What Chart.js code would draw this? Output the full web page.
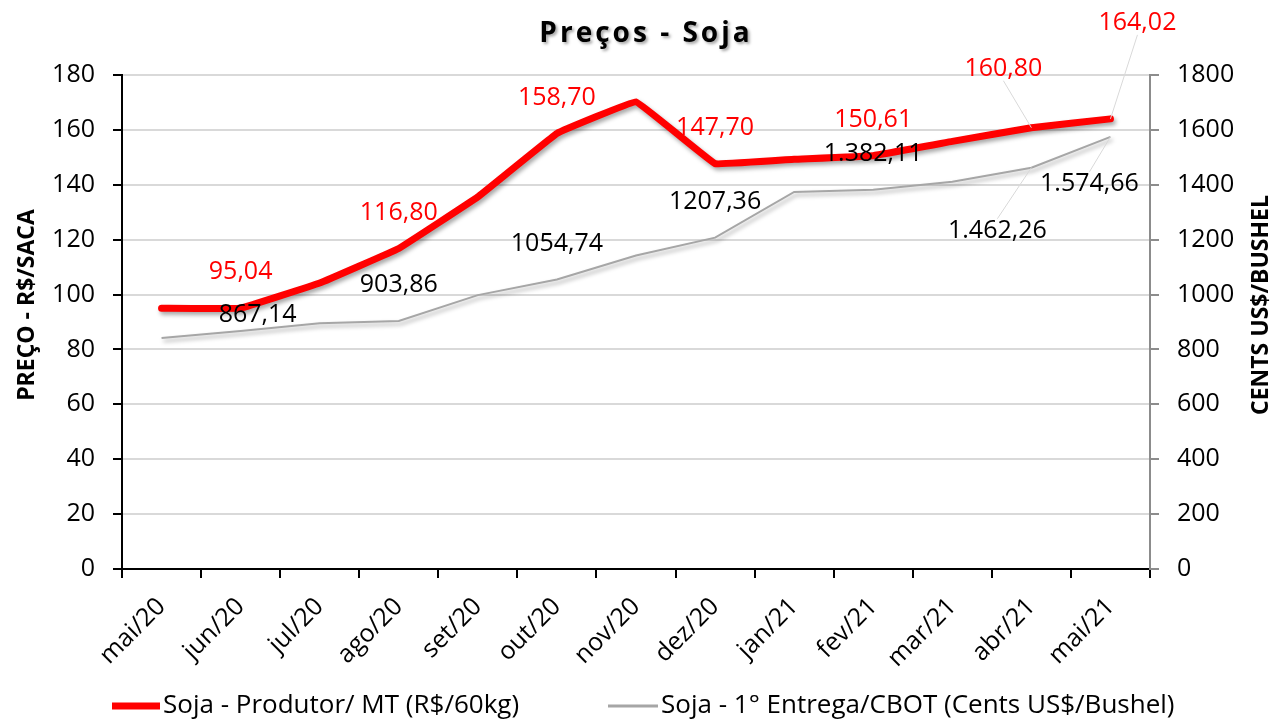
<!DOCTYPE html>
<html>
<head>
<meta charset="utf-8">
<script src="https://cdn.jsdelivr.net/npm/chart.js@4/dist/chart.umd.min.js"></script>
<style>
  html, body { margin: 0; padding: 0; background: #fff; }
  #wrap { width: 1276px; height: 721px; }
</style>
</head>
<body>
<div id="wrap"><canvas id="grafico"></canvas></div>
<script>
  "use strict";

  // dados
  const categorias = ["mai/20", "jun/20", "jul/20", "ago/20", "set/20", "out/20", "nov/20",
    "dez/20", "jan/21", "fev/21", "mar/21", "abr/21", "mai/21"];
  const produtorMT = [95.04, 95.04, 104.2, 116.80, 135.6, 158.70, 170.2, 147.70, 149.3, 150.61, 155.8, 160.80, 164.02];
  const cbot = [842, 867.14, 895, 903.86, 998, 1054.74, 1142, 1207.36, 1374, 1382.11, 1411, 1462.26, 1574.66];
  const rotulosProdutor = [null, "95,04", null, "116,80", null, "158,70", null, "147,70", null, "150,61", null, "160,80", "164,02"];
  const rotulosCbot = [null, "867,14", null, "903,86", null, "1054,74", null, "1207,36", null, "1.382,11", null, "1.462,26", "1.574,66"];

  // deslocamento dos rotulos (px) e se tem linha de chamada
  const posProdutor = { 11: [-28, -59, true], 12: [27, -96, true] };
  const posCbot = { 1: [17, -16], 11: [-34, 63, true], 12: [-21, 47, true] };

  const FONTE = "'Open Sans', 'Noto Sans', sans-serif";

  const sombraLinhas = {
    id: "sombraLinhas",
    beforeDatasetDraw(chart) {
      const ctx = chart.ctx;
      ctx.save();
      ctx.shadowColor = "rgba(0,0,0,0.35)";
      ctx.shadowBlur = 4;
      ctx.shadowOffsetX = 2;
      ctx.shadowOffsetY = 3;
    },
    afterDatasetDraw(chart) {
      chart.ctx.restore();
    },
  };

  // titulo, titulos dos eixos e legenda
  const textos = {
    id: "textos",
    afterDraw(chart) {
      const ctx = chart.ctx;
      ctx.save();
      ctx.font = "bold 28px " + FONTE;
      ctx.letterSpacing = "3px";
      ctx.textAlign = "center";
      ctx.textBaseline = "middle";
      ctx.shadowColor = "rgba(0,0,0,0.35)";
      ctx.shadowBlur = 3;
      ctx.shadowOffsetX = 2;
      ctx.shadowOffsetY = 2;
      ctx.fillStyle = "#000";
      ctx.fillText("Preços - Soja", 646, 34);
      ctx.restore();

      const eixo = (txt, x) => {
        ctx.save();
        ctx.translate(x, 305);
        ctx.rotate(-Math.PI / 2);
        ctx.font = "bold 23px " + FONTE;
        ctx.fillStyle = "#000";
        ctx.textAlign = "center";
        ctx.textBaseline = "middle";
        ctx.fillText(txt, 0, 0);
        ctx.restore();
      };
      eixo("PREÇO - R$/SACA", 27);
      eixo("CENTS US$/BUSHEL", 1261);

      const itens = [[112, 160], [608, 658]];
      chart.data.datasets.forEach((ds, i) => {
        const [x0, x1] = itens[i];
        const y = 706;
        ctx.save();
        ctx.strokeStyle = ds.borderColor;
        ctx.lineWidth = i === 0 ? 7 : 3;
        ctx.beginPath();
        ctx.moveTo(x0, y);
        ctx.lineTo(x1, y);
        ctx.stroke();
        ctx.font = "26px " + FONTE;
        ctx.fillStyle = "#000";
        ctx.textAlign = "left";
        ctx.textBaseline = "middle";
        ctx.fillText(ds.label, x1 + 3, y);
        ctx.restore();
      });
    },
  };

  const rotulos = {
    id: "rotulos",
    afterDatasetsDraw(chart) {
      const ctx = chart.ctx;
      const desenhar = (idx, textos, pos, cor) => {
        const pontos = chart.getDatasetMeta(idx).data;
        textos.forEach((t, i) => {
          if (!t) return;
          const p = pontos[i];
          const d = pos[i] || [0, -36, false];
          const lx = p.x + d[0];
          const ly = p.y + d[1];
          ctx.save();
          if (d[2]) {
            ctx.strokeStyle = "#d9d9d9";
            ctx.lineWidth = 1;
            ctx.beginPath();
            ctx.moveTo(lx, ly + (d[1] < 0 ? 12 : -12));
            ctx.lineTo(p.x, p.y);
            ctx.stroke();
          }
          ctx.font = "25px " + FONTE;
          ctx.fillStyle = cor;
          ctx.textAlign = "center";
          ctx.textBaseline = "middle";
          ctx.fillText(t, lx, ly);
          ctx.restore();
        });
      };
      desenhar(1, rotulosCbot, posCbot, "#000");
      desenhar(0, rotulosProdutor, posProdutor, "#ff0000");
    },
  };

  const ctx = document.getElementById("grafico");
  const grafico = new Chart(ctx, {
    type: "line",
    data: {
      labels: categorias,
      datasets: [
        {
          label: "Soja - Produtor/ MT (R$/60kg)",
          data: produtorMT,
          yAxisID: "y",
          borderColor: "#ff0000",
          backgroundColor: "#ff0000",
          borderWidth: 7,
          tension: 0.05,
          pointRadius: 0,
          borderCapStyle: "round",
          borderJoinStyle: "round",
          order: 0,
        },
        {
          label: "Soja - 1° Entrega/CBOT (Cents US$/Bushel)",
          data: cbot,
          yAxisID: "y1",
          borderColor: "#a6a6a6",
          backgroundColor: "#a6a6a6",
          borderWidth: 2,
          tension: 0,
          pointRadius: 0,
          order: 1,
        },
      ],
    },
    options: {
      responsive: true,
      maintainAspectRatio: false,
      animation: false,
      layout: { padding: { top: 75, left: 0, right: 0, bottom: 46 } },
      scales: {
        x: {
          offset: true,
          grid: { offset: true, drawOnChartArea: false, tickLength: 9, tickColor: "#000", lineWidth: 2 },
          border: { color: "#000", width: 2 },
          ticks: {
            color: "#000",
            font: { family: FONTE, size: 25 },
            minRotation: 45,
            maxRotation: 45,
            padding: 14,
          },
          afterFit(scale) {
            scale.height = 106;
          },
        },
        y: {
          position: "left",
          min: 0,
          max: 180,
          ticks: { stepSize: 20, color: "#000", font: { family: FONTE, size: 25 }, padding: 18 },
          grid: { color: "#d9d9d9", lineWidth: 2, tickLength: 9, tickColor: "#000" },
          border: { color: "#000", width: 2 },
          afterFit(scale) {
            scale.width = 122;
          },
        },
        y1: {
          position: "right",
          min: 0,
          max: 1800,
          ticks: {
            stepSize: 200,
            color: "#000",
            font: { family: FONTE, size: 25 },
            padding: 18,
            callback: (v) => String(v),
          },
          grid: { drawOnChartArea: false, tickLength: 9, tickColor: "#8c8c8c", lineWidth: 2 },
          border: { color: "#8c8c8c", width: 2 },
          afterFit(scale) {
            scale.width = 126;
          },
        },
      },
      plugins: {
        title: { display: false },
        tooltip: { enabled: false },
        legend: { display: false },
      },
    },
    plugins: [sombraLinhas, rotulos, textos],
  });
</script>
</body>
</html>
